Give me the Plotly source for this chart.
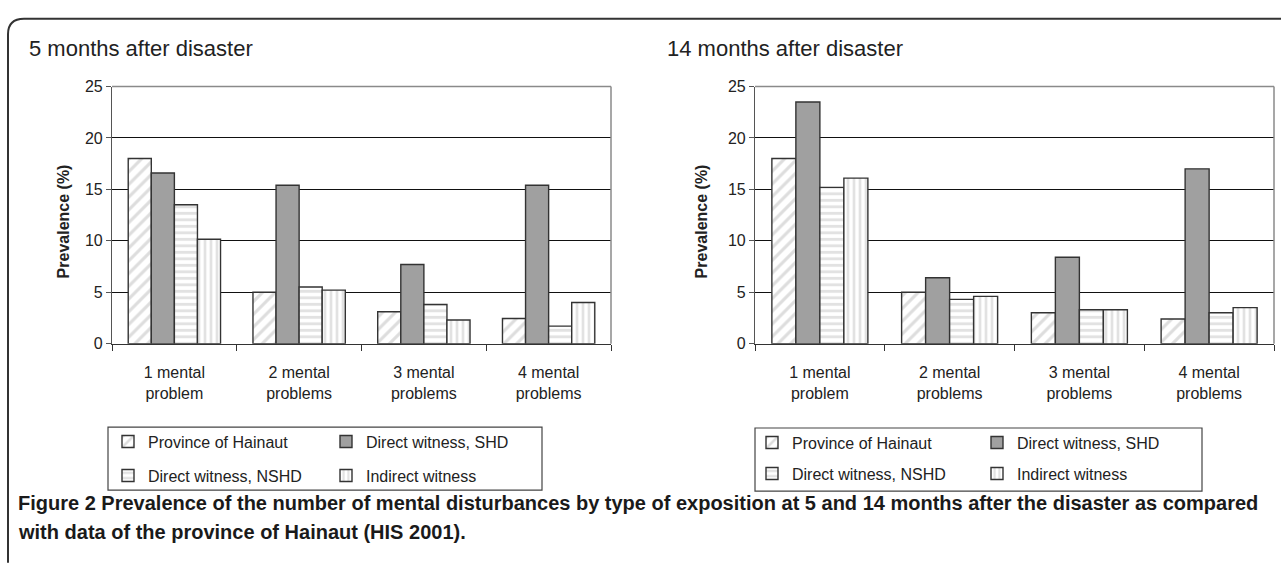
import plotly.graph_objects as go

W, H = 1281, 567

categories = ["1 mental<br>problem", "2 mental<br>problems", "3 mental<br>problems", "4 mental<br>problems"]
series_names = ["Province of Hainaut", "Direct witness, SHD", "Direct witness, NSHD", "Indirect witness"]

m5_hainaut = [18.0, 5.0, 3.1, 2.45]
m5_shd = [16.6, 15.4, 7.7, 15.4]
m5_nshd = [13.5, 5.5, 3.8, 1.7]
m5_indirect = [10.15, 5.2, 2.3, 4.0]

m14_hainaut = [18.0, 5.0, 3.0, 2.4]
m14_shd = [23.5, 6.4, 8.4, 17.0]
m14_nshd = [15.2, 4.3, 3.3, 3.0]
m14_indirect = [16.1, 4.6, 3.3, 3.5]

y_ticks = [0, 5, 10, 15, 20, 25]

def px_x(x):
    return x / W

def px_y(y):
    return 1 - y / H

styles = [
    dict(color="white", pattern=dict(shape="/", fgcolor="#bcbcbc", bgcolor="white", size=9, solidity=0.35)),
    dict(color="#a0a0a0"),
    dict(color="white", pattern=dict(shape="-", fgcolor="#c6c6c6", bgcolor="white", size=6.5, solidity=0.45)),
    dict(color="white", pattern=dict(shape="|", fgcolor="#c6c6c6", bgcolor="white", size=6, solidity=0.45)),
]

fig = go.Figure()

panels = [
    ("x", "y", [m5_hainaut, m5_shd, m5_nshd, m5_indirect], ["legend", "legend", "legend2", "legend2"]),
    ("x2", "y2", [m14_hainaut, m14_shd, m14_nshd, m14_indirect], ["legend3", "legend3", "legend4", "legend4"]),
]

for xa, ya, data, legs in panels:
    for i, vals in enumerate(data):
        st = styles[i]
        marker = dict(color=st["color"], line=dict(color="#333333", width=1.4))
        if "pattern" in st:
            marker["pattern"] = st["pattern"]
        fig.add_trace(go.Bar(
            x=categories, y=vals, name=series_names[i], xaxis=xa, yaxis=ya,
            marker=marker, legend=legs[i], showlegend=True,
        ))

top_px, bot_px = 81, 346
ydom = [px_y(bot_px), px_y(top_px)]

axis_font = dict(family="Liberation Sans, Arial, sans-serif", size=16, color="#222222")

xcommon = dict(
    type="category", showgrid=False, showline=True, linecolor="#333333", linewidth=1.2,
    ticks="outside", tickson="boundaries", ticklen=6, tickcolor="#333333",
    tickfont=axis_font, ticklabelstandoff=14, fixedrange=True,
)
ycommon = dict(
    range=[0, 25], tickvals=y_ticks, showgrid=True, gridcolor="#111111", gridwidth=1,
    showline=True, linecolor="#555555", linewidth=1.2, ticks="outside", ticklen=5,
    tickcolor="#555555", tickfont=axis_font, zeroline=False, fixedrange=True,
)

fig.update_layout(
    width=W, height=H,
    margin=dict(l=0, r=0, t=0, b=0),
    paper_bgcolor="white", plot_bgcolor="white",
    barmode="group", bargap=0.26, bargroupgap=0,
    xaxis=dict(domain=[px_x(112), px_x(611)], anchor="y", **xcommon),
    yaxis=dict(domain=ydom, anchor="x", **ycommon),
    xaxis2=dict(domain=[px_x(755), px_x(1274)], anchor="y2", **xcommon),
    yaxis2=dict(domain=ydom, anchor="x2", **ycommon),
)

leg_font = dict(family="Liberation Sans, Arial, sans-serif", size=16, color="#222222")
def leg(x, y, ew):
    return dict(orientation="h", x=px_x(x), y=px_y(y), xanchor="left", yanchor="middle",
                xref="paper", yref="paper", font=leg_font, entrywidth=ew, entrywidthmode="pixels",
                bgcolor="rgba(0,0,0,0)", borderwidth=0, traceorder="normal", itemclick=False, itemdoubleclick=False)

fig.update_layout(
    legend=leg(108, 447, 173),
    legend2=leg(108, 482, 173),
    legend3=leg(752, 448, 180),
    legend4=leg(752, 480, 180),
)

shapes = []
for xr, yr in [("x domain", "y domain"), ("x2 domain", "y2 domain")]:
    shapes.append(dict(type="line", xref=xr, yref=yr, x0=0, x1=1, y0=1, y1=1, line=dict(color="#8a8a8a", width=1.5)))
    shapes.append(dict(type="line", xref=xr, yref=yr, x0=1, x1=1, y0=0, y1=1, line=dict(color="#8a8a8a", width=1.5)))
for (x0, y0, x1, y1) in [(108, 432, 542, 497), (755, 433, 1202, 498)]:
    shapes.append(dict(type="rect", xref="paper", yref="paper", x0=px_x(x0), x1=px_x(x1),
                       y0=px_y(y1), y1=px_y(y0), line=dict(color="#444444", width=1.2), fillcolor="rgba(0,0,0,0)"))
r = 16
fx, fy = 8, 11
path = (f"M {px_x(fx)},{px_y(H + 5)} L {px_x(fx)},{px_y(fy + r)} "
        f"Q {px_x(fx)},{px_y(fy)} {px_x(fx + r)},{px_y(fy)} L {px_x(W + 5)},{px_y(fy)}")
shapes.append(dict(type="path", xref="paper", yref="paper", path=path, line=dict(color="#333333", width=2)))
fig.update_layout(shapes=shapes)

ann = []
title_font = dict(family="Liberation Sans, Arial, sans-serif", size=22, color="#222222")
ann.append(dict(text="5 months after disaster", x=px_x(27), y=px_y(42), xref="paper", yref="paper",
                xanchor="left", yanchor="middle", showarrow=False, font=title_font))
ann.append(dict(text="14 months after disaster", x=px_x(665), y=px_y(42), xref="paper", yref="paper",
                xanchor="left", yanchor="middle", showarrow=False, font=title_font))
ytitle_font = dict(family="Liberation Sans, Arial, sans-serif", size=16, color="#222222")
for xc in [63, 701]:
    ann.append(dict(text="<b>Prevalence (%)</b>", x=px_x(xc), y=px_y(220), xref="paper", yref="paper",
                    xanchor="center", yanchor="middle", textangle=-90, showarrow=False, font=ytitle_font))
cap_font = dict(family="Liberation Sans, Arial, sans-serif", size=20, color="#1a1a1a")
cap1 = "<b>Figure 2</b> <b>Prevalence of the number of mental disturbances by type of exposition at 5 and 14 months after the disaster as compared</b>"
cap2 = "<b>with data of the province of Hainaut (HIS 2001).</b>"
ann.append(dict(text=cap1, x=px_x(16), y=px_y(510), xref="paper", yref="paper",
                xanchor="left", yanchor="middle", align="left", showarrow=False, font=cap_font))
ann.append(dict(text=cap2, x=px_x(16), y=px_y(540), xref="paper", yref="paper",
                xanchor="left", yanchor="middle", align="left", showarrow=False, font=cap_font))
fig.update_layout(annotations=ann)

fig.write_html("out.html", config={"displayModeBar": False},
               post_script="document.body.style.margin='0';")
